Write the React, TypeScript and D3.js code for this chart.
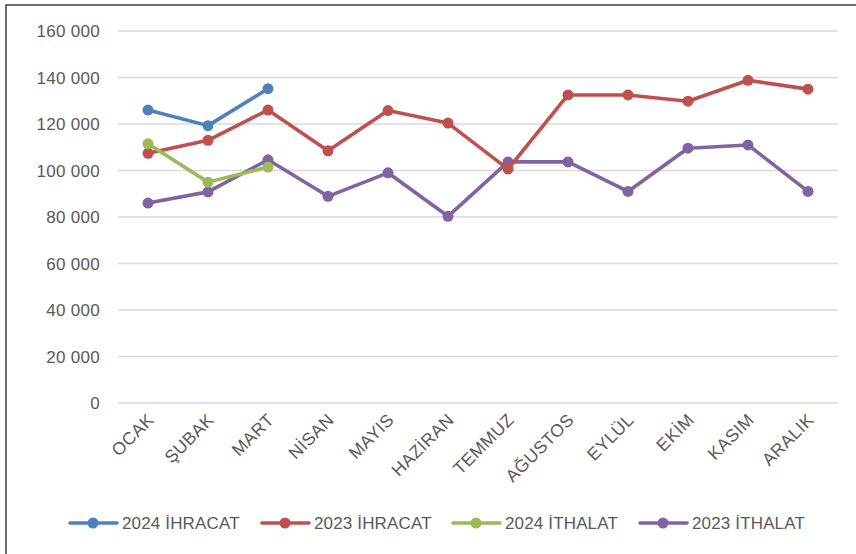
import React from "react";
import * as d3 from "d3";

const months = ["OCAK", "ŞUBAK", "MART", "NİSAN", "MAYIS", "HAZİRAN", "TEMMUZ", "AĞUSTOS", "EYLÜL", "EKİM", "KASIM", "ARALIK"];
const yTicks = [0, 20000, 40000, 60000, 80000, 100000, 120000, 140000, 160000];

const exp2024 = [126000, 119300, 135200];
const exp2023 = [107400, 113000, 126000, 108500, 125800, 120400, 100600, 132500, 132500, 129800, 138800, 135000];
const imp2024 = [111500, 95000, 101500];
const imp2023 = [86000, 90800, 104600, 88900, 99000, 80300, 103700, 103700, 91000, 109600, 111000, 91000];

const seriesNames = ["2024 İHRACAT", "2023 İHRACAT", "2024 İTHALAT", "2023 İTHALAT"];
const seriesColors = ["#4F81BD", "#C0504D", "#9BBB59", "#8064A2"];

const W = 856, H = 554;
const FONT = "'Liberation Sans', Arial, sans-serif";

export default function App() {
  const x = d3.scaleBand<string>().domain(months).range([118, 838]);
  const y = d3.scaleLinear().domain([0, 160000]).range([403, 31]);
  const cx = (i: number) => (x(months[i]) as number) + x.bandwidth() / 2;
  const line = d3.line<number>().x((_, i) => cx(i)).y((d) => y(d));
  const fmt = (v: number) => d3.format(",")(v).replace(/,/g, " ");
  const data = [exp2024, exp2023, imp2024, imp2023];
  const drawOrder = [3, 1, 2, 0];
  const legendX = [70, 262, 453, 640];

  return (
    <svg width={W} height={H} style={{ position: "absolute", left: 0, top: 0, background: "#fff" }}>
      <rect x={6} y={5} width={W + 10} height={H + 10} fill="#fff" stroke="#404040" strokeWidth={1.5} />
      {yTicks.map((t) => (
        <g key={t}>
          <line x1={118} x2={838} y1={y(t)} y2={y(t)} stroke="#D9D9D9" strokeWidth={1.6} />
          <text x={100} y={y(t)} dy="0.36em" textAnchor="end" fontFamily={FONT} fontSize={17} fill="#595959" letterSpacing={0.3}>
            {fmt(t)}
          </text>
        </g>
      ))}
      {months.map((m, i) => (
        <text key={m} transform={`translate(${cx(i) + 7},${421}) rotate(-45)`} textAnchor="end" fontFamily={FONT} fontSize={17.5} fill="#595959" letterSpacing={0.4}>
          {m}
        </text>
      ))}
      {drawOrder.map((s) => (
        <g key={s}>
          <path d={line(data[s]) as string} fill="none" stroke={seriesColors[s]} strokeWidth={3.6} strokeLinejoin="round" />
          {data[s].map((v, i) => (
            <circle key={i} cx={cx(i)} cy={y(v)} r={5.5} fill={seriesColors[s]} />
          ))}
        </g>
      ))}
      {seriesNames.map((n, s) => (
        <g key={n}>
          <line x1={legendX[s]} x2={legendX[s] + 47} y1={523} y2={523} stroke={seriesColors[s]} strokeWidth={3.6} strokeLinecap="round" />
          <circle cx={legendX[s] + 23} cy={523} r={5.5} fill={seriesColors[s]} />
          <text x={legendX[s] + 52} y={523} dy="0.36em" fontFamily={FONT} fontSize={17} fill="#595959" letterSpacing={0.15}>
            {n}
          </text>
        </g>
      ))}
    </svg>
  );
}
